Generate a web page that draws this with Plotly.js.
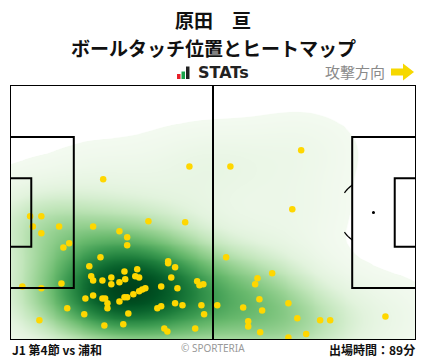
<!DOCTYPE html>
<html><head><meta charset="utf-8">
<script src="https://cdn.plot.ly/plotly-3.0.1.min.js"></script>
<style>html,body{margin:0;padding:0;background:#fff}#c{width:428px;height:359px}</style>
</head><body><div id="c"></div>
<script>
// Ball touch positions (pitch metres, x: 0-105 attacking right, y: 0-68 from bottom)
const touchX = [46.4,24.1,5.2,8.1,5.9,12.7,8.1,21.5,35.8,45.3,28.3,30.3,30.3,15.3,13.8,23.4,20.5,40.9,40.9,42.7,32.9,29.6,21.0,21.5,23.9,26.2,26.2,28.3,29.8,32.4,33.4,41.7,48.4,49.0,50.0,3.2,8.1,13.3,39.1,43.3,35.0,34.2,33.4,31.9,29.6,30.3,21.5,19.5,23.9,24.6,25.2,25.2,28.3,42.7,44.6,49.5,39.1,38.1,14.8,30.6,19.2,50.2,7.6,24.4,29.3,39.9,40.7,47.9,75.3,57.0,73.0,55.9,67.8,64.0,63.4,64.5,53.6,60.3,65.2,72.0,74.3,80.2,82.8,97.1,61.6,61.6,64.7,72.0,76.6];
const touchY = [46.3,42.9,33.0,33.0,30.3,30.3,28.5,30.3,31.7,31.4,29.0,27.4,25.3,25.8,24.7,22.1,19.7,21.0,20.5,19.4,18.9,18.3,17.0,15.9,15.9,16.7,14.9,15.4,16.2,17.0,16.7,16.7,15.7,14.6,14.9,14.3,13.8,15.1,14.3,13.8,13.8,13.5,13.0,12.2,11.4,11.4,11.9,11.1,11.1,11.1,9.8,8.5,10.3,9.8,9.3,9.3,9.0,8.5,8.5,7.1,6.9,6.9,5.3,3.9,4.2,3.1,2.3,3.1,50.6,46.3,34.9,22.1,17.8,16.5,14.9,10.9,9.3,8.7,7.9,9.8,5.8,5.3,5.3,6.3,5.0,3.6,2.1,0.7,1.6];

const titleLine1 = "原田　亘";
const titleLine2 = "ボールタッチ位置とヒートマップ";
const matchLabel = "J1 第4節 vs 浦和";
const minutesLabel = "出場時間：89分";

// kernel density of the touches on a grid
const bwX = 10, bwY = 7;
const gx = [], gy = [];
for (let i = -1; i <= 106; i++) gx.push(i);
for (let j = -1; j <= 69; j++) gy.push(j);
let zmax = 0;
const z = gy.map(yv => gx.map(xv => {
  let s = 0;
  for (let k = 0; k < touchX.length; k++) {
    const dx = (xv - touchX[k]) / bwX, dy = (yv - touchY[k]) / bwY;
    s += Math.exp(-0.5 * (dx * dx + dy * dy));
  }
  if (s > zmax) zmax = s;
  return s;
}));
const zn = z.map(r => r.map(v => v / zmax));

const th = 0.012;
const heat = {
  type: 'heatmap', x: gx, y: gy, z: zn, zmin: 0, zmax: 1, zsmooth: 'best',
  showscale: false, hoverinfo: 'skip',
  colorscale: [[0,'rgba(255,255,255,0)'],[th,'rgba(255,255,255,0)'],[th+0.001,'rgb(243,250,240)'],
    [0.1,'rgb(226,243,221)'],[0.2,'rgb(192,229,185)'],[0.3,'rgb(152,210,147)'],[0.42,'rgb(106,186,110)'],
    [0.55,'rgb(62,156,82)'],[0.68,'rgb(30,126,60)'],[0.8,'rgb(10,100,45)'],[0.9,'rgb(0,82,35)'],[1,'rgb(0,66,26)']]
};
const pts = {
  type: 'scatter', mode: 'markers', x: touchX, y: touchY, hoverinfo: 'skip',
  marker: {color: 'rgb(255,215,0)', size: 6.5, line: {width: 0}}
};

const L = {color: '#000', width: 2};
function rect(x0,y0,x1,y1){return {type:'rect',xref:'x',yref:'y',x0,y0,x1,y1,line:L,layer:'above'};}
function arcPath(cx,cy,r,a0,a1){
  let d=''; const n=12;
  for(let i=0;i<=n;i++){const a=(a0+(a1-a0)*i/n)*Math.PI/180;
    const X=cx+r*Math.cos(a), Y=cy+r*Math.sin(a);
    d+=(i?' L ':'M ')+X.toFixed(2)+' '+Y.toFixed(2);}
  return d;
}
const shapes = [
  rect(0,0,105,68),
  {type:'line',xref:'x',yref:'y',x0:52.5,y0:0,x1:52.5,y1:68,line:L,layer:'above'},
  rect(0,13.84,16.5,54.16), rect(0,24.84,5.5,43.16),
  rect(88.5,13.84,105,54.16), rect(99.5,24.84,105,43.16),
  {type:'path',xref:'x',yref:'y',path:arcPath(94,34,9.15,127,145),line:{color:'#000',width:1.3},layer:'above'},
  {type:'path',xref:'x',yref:'y',path:arcPath(94,34,9.15,215,233),line:{color:'#000',width:1.3},layer:'above'},
  {type:'circle',xref:'x',yref:'y',x0:93.6,y0:33.6,x1:94.4,y1:34.4,fillcolor:'#000',line:{width:0},layer:'above'},
  // STATs logo bars (paper coords)
  {type:'rect',xref:'paper',yref:'paper',x0:(177-10)/406,x1:(180.5-10)/406,y0:(340-79)/255,y1:(340-74)/255,fillcolor:'#e8202a',line:{width:0}},
  {type:'rect',xref:'paper',yref:'paper',x0:(181.5-10)/406,x1:(185-10)/406,y0:(340-79)/255,y1:(340-71.5)/255,fillcolor:'#1aa34a',line:{width:0}},
  {type:'rect',xref:'paper',yref:'paper',x0:(186-10)/406,x1:(189.5-10)/406,y0:(340-79)/255,y1:(340-66.5)/255,fillcolor:'#222',line:{width:0}},
  // attack direction arrow
  {type:'path',xref:'paper',yref:'paper',
   path:'M '+[[391,68.5],[403,68.5],[403,63.5],[414,72],[403,80.5],[403,75.5],[391,75.5]].map(p=>((p[0]-10)/406).toFixed(4)+' '+((340-p[1])/255).toFixed(4)).join(' L ')+' Z',
   fillcolor:'#f6d800',line:{width:0}}
];
function px(x){return (x-10)/406;} function py(y){return (340-y)/255;}
const cjk = '"Noto Sans CJK JP", "Noto Sans", sans-serif';
function ann(text,x,y,xa,font){return {text,x:px(x),y:py(y),xref:'paper',yref:'paper',xanchor:xa,yanchor:'middle',showarrow:false,font};}
const annotations = [
  ann(titleLine1,213,19.5,'center',{family:cjk,size:19,color:'#111',weight:'bold'}),
  ann(titleLine2,213,47,'center',{family:cjk,size:19,color:'#111',weight:'bold'}),
  ann('STATs',223,73,'center',{family:'"DejaVu Sans", sans-serif',size:16,color:'#222',weight:'bold'}),
  ann('攻撃方向',355,72,'center',{family:cjk,size:15,color:'#8a8a8a'}),
  ann(matchLabel,10,349,'left',{family:cjk,size:12,color:'#111',weight:'bold'}),
  ann('© SPORTERIA',213,348,'center',{family:'"Noto Sans", sans-serif',size:10,color:'#999'}),
  ann(minutesLabel,417,349,'right',{family:cjk,size:12,color:'#111',weight:'bold'})
];
const layout = {
  width:428,height:359,margin:{l:10,r:12,t:85,b:19},paper_bgcolor:'#fff',plot_bgcolor:'#fff',
  showlegend:false,
  xaxis:{range:[0,105],showgrid:false,zeroline:false,showticklabels:false,ticks:'',fixedrange:true},
  yaxis:{range:[0,68],showgrid:false,zeroline:false,showticklabels:false,ticks:'',fixedrange:true},
  shapes, annotations
};
Plotly.newPlot('c',[heat,pts],layout,{displayModeBar:false,staticPlot:true});
</script></body></html>
